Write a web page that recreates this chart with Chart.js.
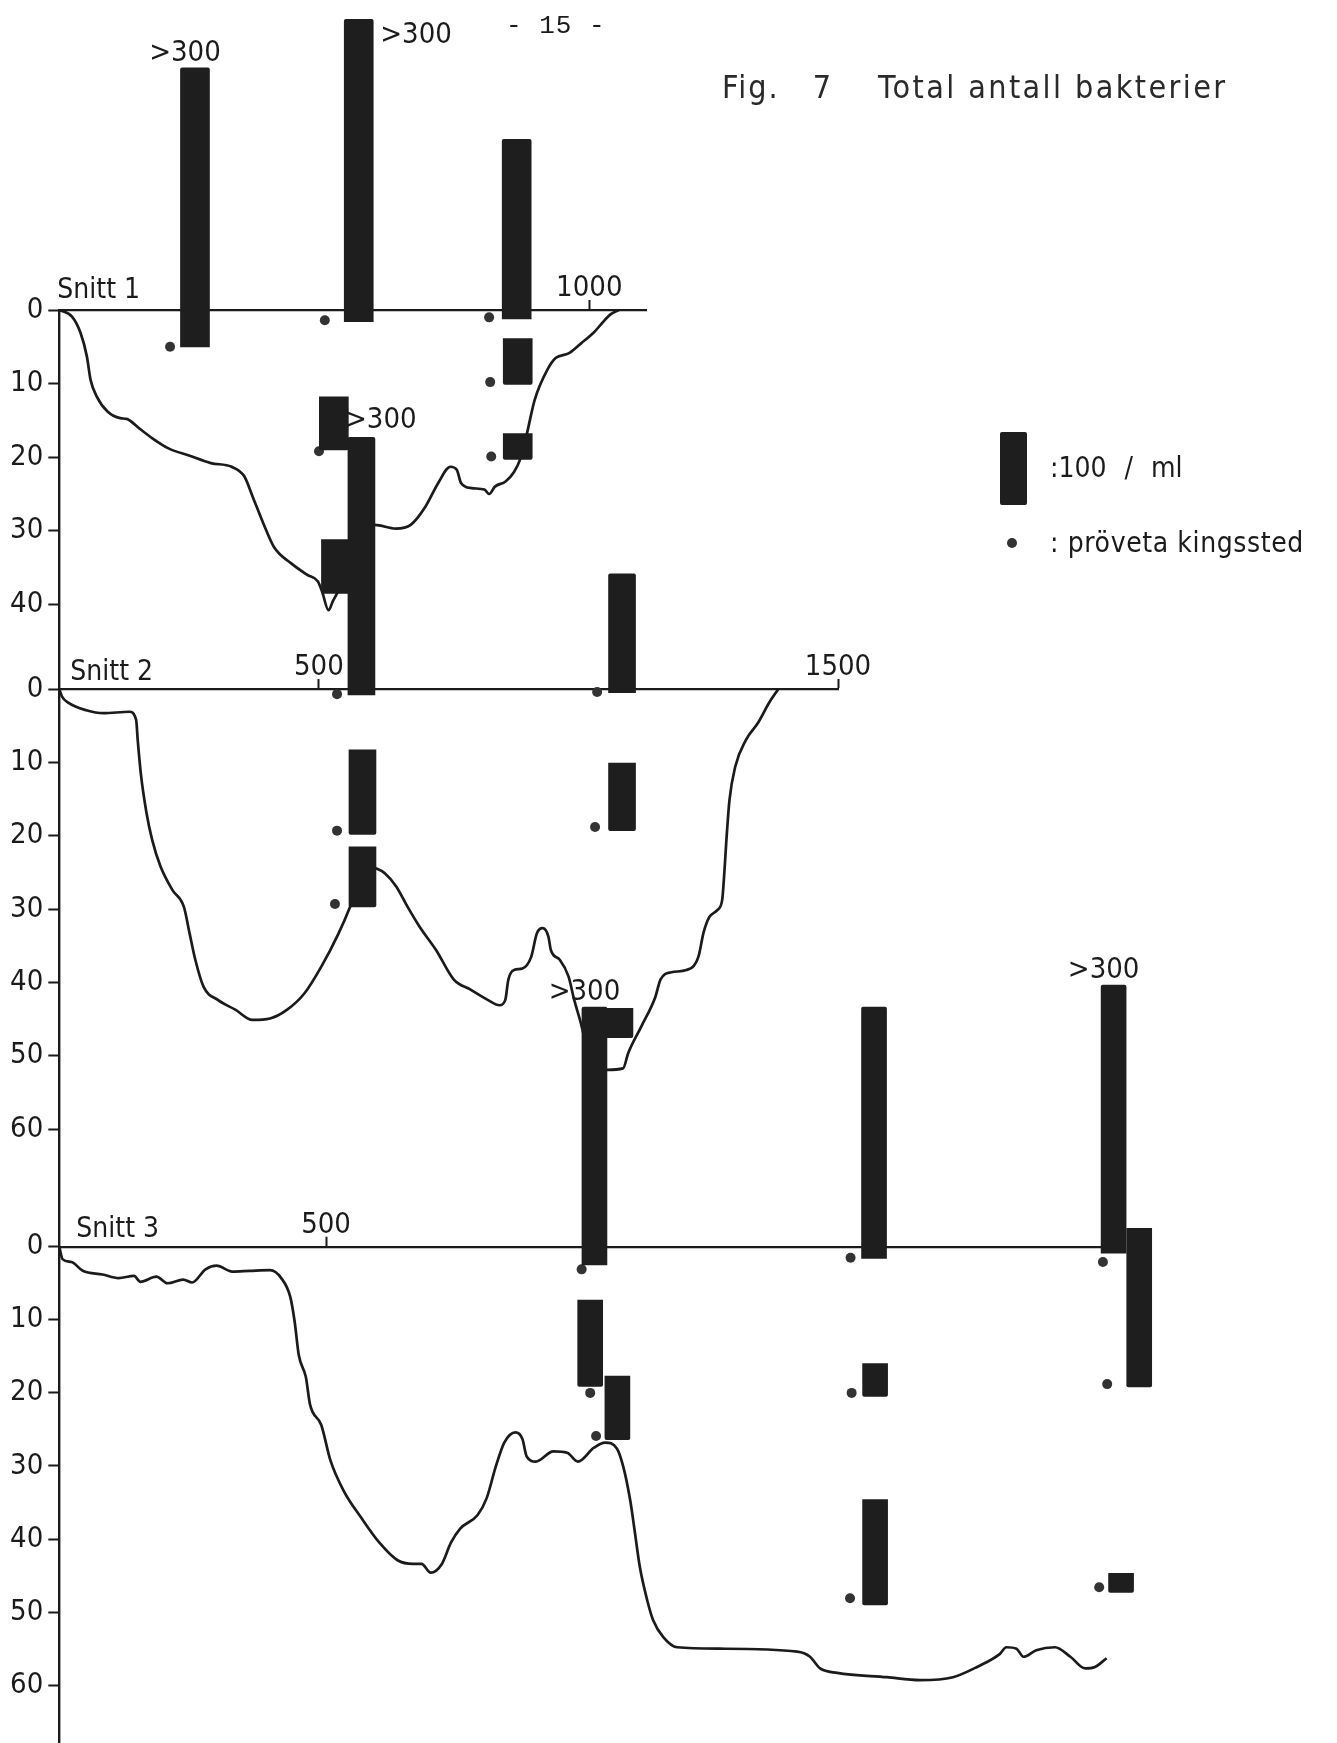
<!DOCTYPE html>
<html>
<head>
<meta charset="utf-8">
<script src="https://cdn.jsdelivr.net/npm/chart.js@4.4.1/dist/chart.umd.min.js"></script>
<style>
  html, body { margin: 0; padding: 0; background: #fff; }
  #page { position: relative; width: 1337px; height: 1743px; overflow: hidden; background: #fff; }
  #page canvas { position: absolute; left: 0; top: 0; }
  .txt { position: absolute; color: #1b1b1b; white-space: pre; line-height: 1;
         font-family: 'DejaVu Sans Condensed', sans-serif; font-size: 28px; }
  .pageno { left: 506px; top: 13px; font-family: 'Liberation Mono', monospace; font-size: 26px; letter-spacing: 1px; }
  .fig { left: 722px; top: 71px; font-size: 32px; letter-spacing: 2px; word-spacing: 22px; color: #2a2a2a; }
  .title { left: 878px; top: 71px; font-size: 32px; letter-spacing: 2.4px; color: #2a2a2a; }
  .legend-bar { position: absolute; left: 1000px; top: 432px; width: 27px; height: 73px; background: #1e1e1e; border-radius: 2px; }
  .legend-dot { position: absolute; left: 1007px; top: 538px; width: 10px; height: 10px; border-radius: 50%; background: #333; }
  .leg1 { left: 1050px; top: 454px; word-spacing: 10px; }
  .leg2 { left: 1050px; top: 529px; letter-spacing: 0.6px; }
</style>
</head>
<body>
<div id="page">
  <canvas id="snitt1" width="1337" height="1743"></canvas>
  <canvas id="snitt2" width="1337" height="1743"></canvas>
  <canvas id="snitt3" width="1337" height="1743"></canvas>
  <div class="txt pageno">- 15 -</div>
  <div class="txt fig">Fig. 7</div>
  <div class="txt title">Total antall bakterier</div>
  <div class="legend-bar"></div>
  <div class="txt leg1">:100 / ml</div>
  <div class="legend-dot"></div>
  <div class="txt leg2">: pröveta kingssted</div>
</div>
<script>
const INK = '#1b1b1b'
const NARROW = "'DejaVu Sans Condensed', sans-serif"
const ML_PER_METRE = 10   // legend bar: 10 m on the depth scale = 100 / ml

// ---- Snitt 1 (distance m, depth m) ----
const s1DistTicks = [1000]
const s1DepthTicks = [0, 10, 20, 30, 40]
const s1ProfileX = [0, 24, 40, 52, 59, 71, 91, 115, 127, 151, 175, 206, 246, 286, 325, 349, 365, 385, 405, 437, 468, 488, 496, 508, 516, 524, 545, 575, 595, 635, 663, 691, 715, 738, 750, 758, 778, 802, 811, 822, 842, 858, 869, 881, 897, 921, 937, 961, 985, 1008, 1024, 1040, 1056]
const s1ProfileDepth = [0, 0.9, 3.1, 6.3, 9.5, 11.8, 13.8, 14.7, 14.8, 16.1, 17.4, 18.8, 19.8, 20.8, 21.3, 22.6, 25.4, 29.0, 32.2, 34.4, 36.0, 36.9, 38.3, 40.8, 39.6, 38.5, 35, 31, 29.2, 29.7, 29.2, 26.7, 23.5, 21.3, 21.7, 23.5, 24.2, 24.4, 25.0, 24.0, 23.3, 22.0, 20.4, 17.2, 12.2, 8.1, 6.5, 5.9, 4.5, 3.1, 1.8, 0.6, 0]
const s1SampleX = [209, 501, 811, 813, 815, 490]
const s1SampleDepth = [5.0, 1.4, 1.0, 9.8, 19.9, 19.2]
const s1BarX = [256, 565, 863, 865, 865, 518, 522]
const s1BarBase = [5.0, 1.6, 1.2, 10.1, 20.3, 19.0, 38.5]
const s1BarCount = [379, 411, 244, 62, 35, 72, 73]
const s1BarNote = ['>300', '>300', '', '', '', '', '']

// ---- Snitt 2 ----
const s2DistTicks = [500, 1500]
const s2DepthTicks = [0, 10, 20, 30, 40, 50, 60]
const s2ProfileX = [0, 5, 18, 52, 85, 135, 148, 151, 157, 168, 179, 195, 218, 240, 251, 262, 278, 306, 339, 372, 406, 439, 472, 505, 538, 560, 589, 612, 627, 649, 671, 694, 726, 760, 793, 826, 848, 859, 865, 876, 892, 909, 920, 931, 942, 947, 964, 981, 992, 1003, 1023, 1042, 1055, 1086, 1096, 1121, 1148, 1158, 1179, 1208, 1231, 1241, 1252, 1268, 1277, 1281, 1285, 1291, 1302, 1323, 1346, 1367, 1385]
const s2ProfileDepth = [0, 1.0, 1.9, 2.9, 3.3, 3.1, 4.2, 6.9, 11.5, 16.9, 20.6, 24.2, 27.4, 29.7, 33.3, 36.9, 40.6, 42.4, 43.7, 45.1, 44.9, 43.7, 41.5, 37.8, 33.3, 29.7, 24.1, 24.5, 25.1, 26.9, 29.7, 32.4, 35.6, 39.6, 41.0, 42.4, 43.1, 42.4, 39.6, 38.3, 38.1, 36.5, 33.3, 32.6, 33.7, 35.6, 36.9, 39.2, 42.4, 45.1, 50.5, 51.9, 51.9, 51.7, 49.6, 46.0, 42.0, 39.6, 38.6, 38.3, 36.5, 33.2, 31.1, 30.1, 28.7, 25.1, 20.6, 15.1, 10.6, 6.9, 4.6, 1.9, 0]
const s2SampleX = [535, 535, 531, 1036, 1032, 1032]
const s2SampleDepth = [0.7, 19.3, 29.3, 0.4, 18.8, 47.3]
const s2BarX = [582, 584, 584, 1084, 1084, 1079]
const s2BarBase = [0.8, 19.8, 29.7, 0.5, 19.3, 47.5]
const s2BarCount = [351, 115, 82, 162, 92, 40]
const s2BarNote = ['>300', '', '', '', '', '']

// ---- Snitt 3 ----
const s3DistTicks = [500]
const s3DepthTicks = [0, 10, 20, 30, 40, 50, 60]
const s3ProfileX = [0, 6, 23, 44, 81, 111, 140, 152, 182, 203, 232, 249, 274, 295, 324, 357, 395, 416, 433, 441, 449, 462, 470, 491, 508, 533, 567, 600, 634, 663, 679, 696, 717, 734, 751, 784, 801, 818, 834, 855, 868, 876, 893, 926, 952, 972, 1002, 1023, 1045, 1057, 1070, 1079, 1088, 1102, 1113, 1132, 1158, 1238, 1383, 1407, 1426, 1458, 1551, 1613, 1675, 1720, 1763, 1775, 1794, 1807, 1831, 1866, 1895, 1923, 1941, 1963]
const s3ProfileDepth = [0, 1.7, 2.1, 3.3, 3.8, 4.3, 4.0, 4.8, 4.1, 5.0, 4.5, 4.9, 3.1, 2.6, 3.4, 3.3, 3.2, 4.3, 6.9, 10.2, 14.9, 17.8, 21.6, 24.4, 29.2, 33.4, 37.2, 40.5, 42.9, 43.4, 43.4, 44.6, 43.4, 40.5, 38.6, 36.7, 34.4, 30.1, 26.8, 25.4, 26.3, 28.7, 29.4, 28.0, 28.2, 29.4, 27.5, 26.8, 27.6, 30.1, 34.7, 39.2, 43.8, 48.4, 51.1, 53.4, 54.8, 55.0, 55.4, 56.1, 57.7, 58.3, 58.9, 59.3, 58.9, 57.5, 55.7, 54.8, 55.0, 56.1, 55.2, 54.8, 56.1, 57.7, 57.5, 56.3]
const s3SampleX = [979, 995, 1006, 1483, 1485, 1482, 1956, 1964, 1949]
const s3SampleDepth = [3.1, 20.0, 25.9, 1.5, 20.0, 48.1, 2.1, 18.8, 46.6]
const s3BarX = [1003, 995, 1046, 1527, 1529, 1529, 1976, 2024, 1990]
const s3BarBase = [2.5, 19.1, 26.4, 1.6, 20.5, 49.0, 0.9, 19.2, 47.3]
const s3BarCount = [353, 118, 87, 344, 45, 144, 367, 217, 26]
const s3BarNote = ['>300', '', '', '', '', '', '>300', '', '']

// page layout of each panel (pixels of the chart area)
const AXIS_LEFT = 59.3
const AXIS_TOP_H = 40

const panelText = {
  id: 'panelText',
  afterDatasetsDraw(chart, args, opts) {
    const {ctx, chartArea} = chart
    ctx.save()
    ctx.fillStyle = INK
    ctx.font = '28px ' + NARROW
    ctx.textAlign = 'left'
    ctx.textBaseline = 'alphabetic'
    ctx.fillText(opts.name, chartArea.left + opts.nameDx, chartArea.top - opts.nameDy)
    ctx.font = '29px ' + NARROW
    chart.getDatasetMeta(2).data.forEach((bar, i) => {
      const note = opts.notes[i]
      if (!note) return
      const top = Math.min(bar.y, bar.base)
      const left = bar.x - bar.width / 2
      const right = bar.x + bar.width / 2
      const side = opts.noteSide[i]
      if (side === 'right') {
        ctx.textAlign = 'left'; ctx.textBaseline = 'middle'
        ctx.fillText(note, right + 7, top + 16)
      } else if (side === 'aboveRight') {
        ctx.textAlign = 'left'; ctx.textBaseline = 'alphabetic'
        ctx.fillText(note, left - 3, top - 9)
      } else {
        ctx.textAlign = 'center'; ctx.textBaseline = 'alphabetic'
        ctx.fillText(note, bar.x - 10, top - 7)
      }
    })
    ctx.restore()
  }
}

function makePanel(id, p) {
  const profile = p.profileX.map((x, i) => ({x: x, y: p.profileDepth[i]}))
  const samples = p.sampleX.map((x, i) => ({x: x, y: p.sampleDepth[i]}))
  const bars = p.barX.map((x, i) => ({x: x, y: [p.barBase[i], p.barBase[i] - p.barCount[i] / ML_PER_METRE]}))

  new Chart(document.getElementById(id), {
    type: 'line',
    data: {
      datasets: [
        { type: 'line', data: profile, borderColor: INK, borderWidth: 2.7, pointRadius: 0,
          cubicInterpolationMode: 'monotone', order: 3, clip: false },
        { type: 'scatter', data: samples, pointRadius: 5, backgroundColor: '#333', borderWidth: 0,
          order: 2, clip: false },
        { type: 'bar', data: bars, backgroundColor: '#1e1e1e', barThickness: p.barWidth,
          borderRadius: 2, order: 1, clip: false }
      ]
    },
    options: {
      responsive: false,
      animation: false,
      devicePixelRatio: 1,
      events: [],
      layout: {
        autoPadding: false,
        padding: { left: 0, top: p.top - AXIS_TOP_H, right: 1337 - p.right, bottom: 1743 - p.bottom }
      },
      plugins: {
        legend: { display: false },
        tooltip: { enabled: false },
        panelText: { name: p.name, nameDx: p.nameDx, nameDy: p.nameDy, notes: p.notes, noteSide: p.noteSide }
      },
      scales: {
        x: {
          type: 'linear', position: 'top', min: 0, max: p.distMax, offset: false,
          afterBuildTicks: s => { s.ticks = p.distTicks.map(v => ({value: v})) },
          afterFit: s => { s.height = AXIS_TOP_H; s.paddingLeft = 0; s.paddingRight = 0 },
          grid: { drawOnChartArea: false, tickLength: 10, tickWidth: 2, tickColor: INK, offset: false },
          border: { display: true, color: INK, width: 2.2 },
          ticks: { color: INK, font: { family: NARROW, size: 29 }, padding: -6, maxRotation: 0,
                   autoSkip: false, callback: v => String(v) }
        },
        y: {
          type: 'linear', position: 'left', reverse: true, min: 0, max: p.depthMax,
          afterBuildTicks: s => { s.ticks = p.depthTicks.map(v => ({value: v})) },
          afterFit: s => { s.width = AXIS_LEFT; s.paddingTop = 0; s.paddingBottom = 0 },
          grid: { drawOnChartArea: false, tickLength: 11, tickWidth: 2, tickColor: INK },
          border: { display: true, color: INK, width: 2.4 },
          ticks: { color: INK, font: { family: NARROW, size: 29 }, padding: 5, autoSkip: false,
                   callback: v => String(v) }
        }
      }
    },
    plugins: [panelText]
  })
}

makePanel('snitt1', {
  name: 'Snitt 1', nameDx: -2, nameDy: 12,
  top: 310, bottom: 689, right: 646, distMax: 1107, depthMax: 51.5, barWidth: 29,
  distTicks: s1DistTicks, depthTicks: s1DepthTicks,
  profileX: s1ProfileX, profileDepth: s1ProfileDepth,
  sampleX: s1SampleX, sampleDepth: s1SampleDepth,
  barX: s1BarX, barBase: s1BarBase, barCount: s1BarCount,
  notes: s1BarNote, noteSide: ['above', 'right']
})

makePanel('snitt2', {
  name: 'Snitt 2', nameDx: 11, nameDy: 9,
  top: 689, bottom: 1246.7, right: 838, distMax: 1500, depthMax: 76, barWidth: 27,
  distTicks: s2DistTicks, depthTicks: s2DepthTicks,
  profileX: s2ProfileX, profileDepth: s2ProfileDepth,
  sampleX: s2SampleX, sampleDepth: s2SampleDepth,
  barX: s2BarX, barBase: s2BarBase, barCount: s2BarCount,
  notes: s2BarNote, noteSide: ['aboveRight']
})

makePanel('snitt3', {
  name: 'Snitt 3', nameDx: 17, nameDy: 10,
  top: 1246.7, bottom: 1743, right: 1112, distMax: 1973, depthMax: 67.9, barWidth: 25,
  distTicks: s3DistTicks, depthTicks: s3DepthTicks,
  profileX: s3ProfileX, profileDepth: s3ProfileDepth,
  sampleX: s3SampleX, sampleDepth: s3SampleDepth,
  barX: s3BarX, barBase: s3BarBase, barCount: s3BarCount,
  notes: s3BarNote, noteSide: ['above', '', '', '', '', '', 'above']
})
</script>
</body>
</html>
